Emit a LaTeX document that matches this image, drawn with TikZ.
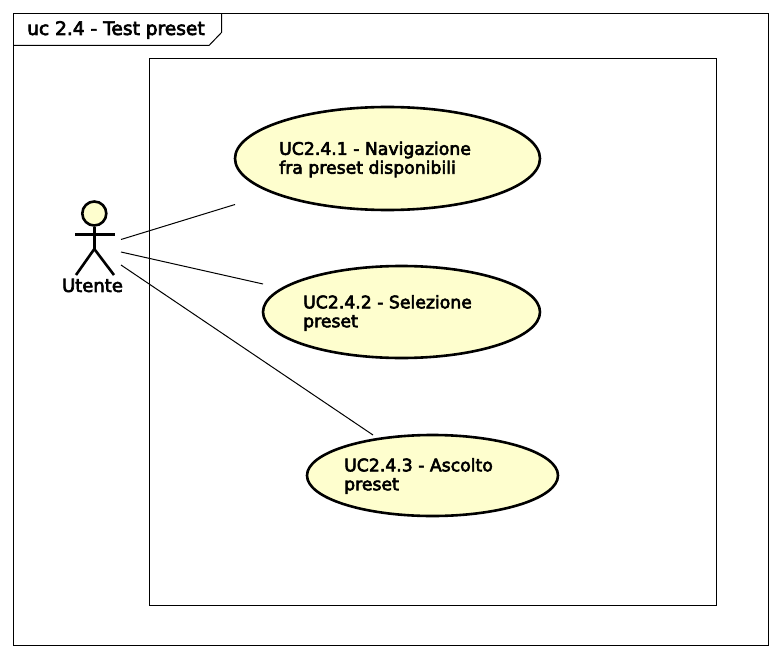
\documentclass[tikz,border=0pt]{standalone}
\usepackage{fontspec}
\setmainfont{DejaVu Sans}
\newfontfamily\umlfont[FakeBold=3.5]{DejaVu Sans}
\usetikzlibrary{shapes.geometric}
\definecolor{ucfill}{HTML}{FEFECE}
\tikzset{
  usecase/.style={draw=black, line width=2.6pt, fill=ucfill, ellipse, inner sep=0pt},
  uctext/.style={anchor=west, align=left, inner sep=0pt, font=\umlfont\fontsize{17.25}{18.9}\selectfont},
  rel/.style={draw=black, line width=1pt},
  limb/.style={draw=black, line width=2.6pt}
}
\begin{document}
\begin{tikzpicture}[x=1pt,y=-1pt]
\useasboundingbox (0,0) rectangle (781,658);
% frame and package box
\draw[line width=1pt] (13.5,13.5) rectangle (768.5,645.5);
\draw[line width=1pt] (13.5,45.5) -- (209,45.5) -- (221.5,32.5) -- (221.5,13.5);
\node[anchor=west, inner sep=0pt, font=\umlfont\fontsize{18.6}{20}\selectfont] (title) at (27,30) {uc 2.4 - Test preset};
\draw[line width=1pt] (149.5,58.5) rectangle (716.5,605.5);
% use cases
\node[usecase, minimum width=305pt, minimum height=103pt] (uca) at (387.5,158.5) {};
\node[usecase, minimum width=277pt, minimum height=92pt] (ucb) at (401.5,312) {};
\node[usecase, minimum width=251pt, minimum height=81pt] (ucc) at (432.5,475.5) {};
\node[uctext] (ucatext) at (279,159.5) {UC2.4.1 - Navigazione\\fra preset disponibili};
\node[uctext] (ucbtext) at (303,313) {UC2.4.2 - Selezione\\preset};
\node[uctext] (ucctext) at (344,476) {UC2.4.3 - Ascolto\\preset};
% actor
\node[draw=black, line width=2.6pt, fill=ucfill, circle, minimum size=24pt, inner sep=0pt] (head) at (94.3,213.5) {};
\coordinate (hip) at (94.3,249);
\draw[limb] (head.south) -- (hip);
\draw[limb] (75,234.5) -- (115,234.5);
\draw[limb] (76,275) -- (hip) -- (114,275);
\node[inner sep=0pt, font=\umlfont\fontsize{18}{20}\selectfont] (actor) at (92.5,285.5) {Utente};
% relations
\coordinate (aa) at (121,239.5);
\coordinate (ab) at (121,252);
\coordinate (ac) at (121,265);
\coordinate (ea) at (235,204.5);
\coordinate (eb) at (263,284);
\coordinate (ec) at (373,435);
\draw[rel] (aa) -- (ea);
\draw[rel] (ab) -- (eb);
\draw[rel] (ac) -- (ec);
\end{tikzpicture}
\end{document}
